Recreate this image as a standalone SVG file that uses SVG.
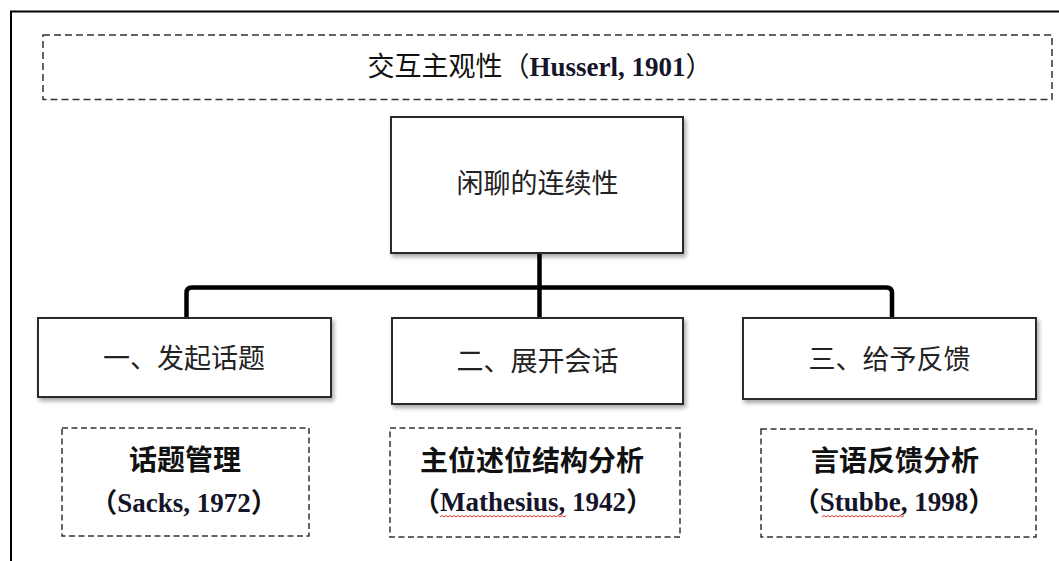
<svg xmlns="http://www.w3.org/2000/svg" width="1059" height="561" viewBox="0 0 1059 561">
  <style>
    .cjk { font-family: "Noto Sans CJK SC", "Noto Sans", sans-serif; }
    .lat { font-family: "Liberation Serif", "Noto Sans CJK SC", serif; font-weight: bold; fill: #14142a; }
    .box { fill: #ffffff; stroke: #2a2a2a; stroke-width: 2; }
    .dash { fill: none; stroke: #333; stroke-width: 1.5; stroke-dasharray: 6 3.5; }
    .lbl { font-size: 27px; fill: #222; text-anchor: middle; }
    .bold { font-size: 28px; font-weight: bold; fill: #111; text-anchor: middle; }
    .conn { fill: none; stroke: #000; stroke-width: 4.5; stroke-linejoin: round; }
    .wavy { fill: none; stroke: #e03030; stroke-width: 1; }
  </style>
  <defs>
    <filter id="shadow" x="-10%" y="-10%" width="125%" height="130%">
      <feDropShadow dx="2" dy="3" stdDeviation="2" flood-color="#000" flood-opacity="0.35"/>
    </filter>
  </defs>
  <rect x="0" y="0" width="1059" height="561" fill="#ffffff"/>
  <rect id="frame" x="11" y="11.5" width="1100" height="600" fill="none" stroke="#000" stroke-width="2"/>

  <g id="title">
    <rect class="dash" x="43" y="35" width="1009" height="64.5" style="stroke-dasharray: 7 4"/>
    <text class="cjk" x="540" y="76" font-size="27" text-anchor="middle" fill="#111">交互主观性（<tspan class="lat">Husserl, 1901</tspan>）</text>
  </g>

  <g id="connectors">
    <path class="conn" d="M539.5,253 V318"/>
    <path class="conn" d="M186.5,318 V293 Q186.5,287.5 192,287.5 H886.5 Q892,287.5 892,293 V318"/>
  </g>

  <g id="root">
    <rect class="box" x="391" y="117" width="292" height="136" filter="url(#shadow)"/>
    <text class="cjk lbl" x="537.5" y="193">闲聊的连续性</text>
  </g>

  <g id="node1">
    <rect class="box" x="38" y="318" width="293" height="79" filter="url(#shadow)"/>
    <text class="cjk lbl" x="184" y="367.5">一、发起话题</text>
  </g>
  <g id="node2">
    <rect class="box" x="392" y="318" width="291" height="86" filter="url(#shadow)"/>
    <text class="cjk lbl" x="537.5" y="371">二、展开会话</text>
  </g>
  <g id="node3">
    <rect class="box" x="743" y="318" width="293" height="81" filter="url(#shadow)"/>
    <text class="cjk lbl" x="889.5" y="368.5">三、给予反馈</text>
  </g>

  <g id="ref1">
    <rect class="dash" x="62" y="428" width="247" height="108"/>
    <text class="cjk bold" x="185" y="470">话题管理</text>
    <text class="cjk" x="184" y="512" font-size="27" text-anchor="middle" font-weight="bold" fill="#111">（<tspan class="lat">Sacks, 1972</tspan>）</text>
  </g>
  <g id="ref2">
    <rect class="dash" x="390" y="428" width="290" height="109"/>
    <text class="cjk bold" x="532" y="471">主位述位结构分析</text>
    <text class="cjk" x="533" y="511" font-size="27" text-anchor="middle" font-weight="bold" fill="#111">（<tspan class="lat">Mathesius, 1942</tspan>）</text>
    <path class="wavy" d="M440,517 l2,-1.5 l2,1.5 l2,-1.5 l2,1.5 l2,-1.5 l2,1.5 l2,-1.5 l2,1.5 l2,-1.5 l2,1.5 l2,-1.5 l2,1.5 l2,-1.5 l2,1.5 l2,-1.5 l2,1.5 l2,-1.5 l2,1.5 l2,-1.5 l2,1.5 l2,-1.5 l2,1.5 l2,-1.5 l2,1.5 l2,-1.5 l2,1.5 l2,-1.5 l2,1.5 l2,-1.5 l2,1.5 l2,-1.5 l2,1.5 l2,-1.5 l2,1.5 l2,-1.5 l2,1.5 l2,-1.5 l2,1.5 l2,-1.5 l2,1.5 l2,-1.5 l2,1.5 l2,-1.5 l2,1.5 l2,-1.5 l2,1.5 l2,-1.5 l2,1.5 l2,-1.5 l2,1.5 l2,-1.5 l2,1.5 l2,-1.5 l2,1.5 l2,-1.5 l2,1.5 l2,-1.5 l2,1.5 l2,-1.5 l2,1.5 l2,-1.5 l2,1.5 l2,-1.5"/>
  </g>
  <g id="ref3">
    <rect class="dash" x="761" y="429" width="275" height="108"/>
    <text class="cjk bold" x="895" y="471">言语反馈分析</text>
    <text class="cjk" x="894" y="511" font-size="27" text-anchor="middle" font-weight="bold" fill="#111">（<tspan class="lat">Stubbe, 1998</tspan>）</text>
    <path class="wavy" d="M822,517 l2,-1.5 l2,1.5 l2,-1.5 l2,1.5 l2,-1.5 l2,1.5 l2,-1.5 l2,1.5 l2,-1.5 l2,1.5 l2,-1.5 l2,1.5 l2,-1.5 l2,1.5 l2,-1.5 l2,1.5 l2,-1.5 l2,1.5 l2,-1.5 l2,1.5 l2,-1.5 l2,1.5 l2,-1.5 l2,1.5 l2,-1.5 l2,1.5 l2,-1.5 l2,1.5 l2,-1.5 l2,1.5 l2,-1.5 l2,1.5 l2,-1.5 l2,1.5 l2,-1.5 l2,1.5 l2,-1.5 l2,1.5 l2,-1.5 l2,1.5 l2,-1.5"/>
  </g>
</svg>
